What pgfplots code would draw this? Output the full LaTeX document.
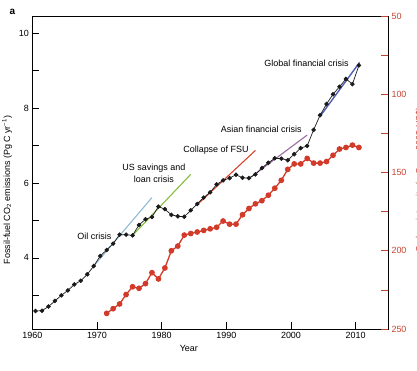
\documentclass[border=0pt]{standalone}
\usepackage{pgfplots}
\pgfplotsset{compat=1.18}
\usepackage{fontspec}
\setmainfont{Liberation Sans}
\definecolor{blk}{HTML}{1A1A1A}
\definecolor{redser}{HTML}{D23A2A}
\definecolor{redax}{HTML}{C8432F}
\definecolor{oilc}{HTML}{8DBBD3}
\definecolor{slc}{HTML}{86BD40}
\definecolor{fsuc}{HTML}{D9432E}
\definecolor{asc}{HTML}{9A6AA3}
\definecolor{gfc}{HTML}{5060AE}
\begin{document}
\begin{tikzpicture}[font=\fontsize{9}{11}\selectfont]
\begin{axis}[name=main,
  scale only axis, width=355.7bp, height=313bp,
  xmin=1960, xmax=2015, ymin=2.1, ymax=10.46,
  xtick={1960,1970,...,2010}, ytick={4,6,8,10}, minor ytick={3,5,7,9},
  xtick pos=bottom, ytick pos=left, tick align=inside,
  major tick length=7bp, minor tick length=7bp,
  every tick/.style={black, line width=0.6pt},
  axis line style={line width=0.7pt},
  /pgf/number format/assume math mode=true,
  x tick label style={/pgf/number format/1000 sep={}},
  xlabel={Year},
  ylabel={Fossil-fuel CO\textsubscript{2} emissions (Pg C yr\textsuperscript{−1})},
  every axis x label/.append style={at={(ticklabel cs:0.44)}},
  every axis y label/.append style={at={(ticklabel cs:0.444)}},
  clip=false,
]
% trend lines
\addplot[oilc, line width=1.1pt] coordinates {(1969.5,3.78) (1978.5,5.61)};
\addplot[slc, line width=1.1pt] coordinates {(1975.5,4.60) (1984.5,6.23)};
\addplot[fsuc, line width=1.1pt] coordinates {(1985.5,5.42) (1994.5,6.87)};
\addplot[asc, line width=1.1pt] coordinates {(1993.5,6.12) (2002.5,7.28)};
\addplot[gfc, line width=1.4pt] coordinates {(2004.5,7.78) (2010.6,9.22)};
% fossil fuel emissions
\addplot[blk, line width=0.7pt, mark=*, mark size=1.9pt] table {
x y
1960.5 2.58
1961.5 2.59
1962.5 2.70
1963.5 2.85
1964.5 3.00
1965.5 3.13
1966.5 3.29
1967.5 3.39
1968.5 3.56
1969.5 3.78
1970.5 4.05
1971.5 4.21
1972.5 4.38
1973.5 4.62
1974.5 4.62
1975.5 4.60
1976.5 4.88
1977.5 5.03
1978.5 5.09
1979.5 5.37
1980.5 5.30
1981.5 5.15
1982.5 5.11
1983.5 5.10
1984.5 5.27
1985.5 5.44
1986.5 5.61
1987.5 5.75
1988.5 5.96
1989.5 6.07
1990.5 6.13
1991.5 6.22
1992.5 6.14
1993.5 6.13
1994.5 6.23
1995.5 6.40
1996.5 6.54
1997.5 6.66
1998.5 6.65
1999.5 6.61
2000.5 6.77
2001.5 6.93
2002.5 6.99
2003.5 7.42
2004.5 7.81
2005.5 8.11
2006.5 8.37
2007.5 8.57
2008.5 8.78
2009.5 8.64
2010.5 9.14
};
\node at (axis cs:1969.6,4.57) {Oil crisis};
\node[align=center, font=\fontsize{9}{11.6}\selectfont] at (axis cs:1978.8,6.26) {US savings and\\loan crisis};
\node at (axis cs:1988.4,6.88) {Collapse of FSU};
\node at (axis cs:1995.4,7.44) {Asian financial crisis};
\node at (axis cs:2002.4,9.21) {Global financial crisis};
\end{axis}
\begin{axis}[
  scale only axis, width=355.7bp, height=313bp,
  xmin=1960, xmax=2015, ymin=50, ymax=250, y dir=reverse,
  axis x line=none, axis y line*=right,
  ytick={50,100,150,200,250}, minor ytick={75,125,175,225},
  ytick pos=right, tick align=inside,
  major tick length=7bp, minor tick length=7bp,
  every tick/.style={redax, line width=0.6pt},
  axis line style={line width=0.7pt, black},
  /pgf/number format/assume math mode=true,
  yticklabel style={redax},
]
\addplot[redser, line width=1.3pt, mark=*, mark size=2.2pt] table {
x y
1971.5 240
1972.5 237
1973.5 234
1974.5 228
1975.5 223
1976.5 224
1977.5 221
1978.5 214
1979.5 218
1980.5 211
1981.5 200
1982.5 197
1983.5 190
1984.5 189
1985.5 188
1986.5 187
1987.5 186
1988.5 185
1989.5 181
1990.5 183
1991.5 183
1992.5 177
1993.5 173
1994.5 170
1995.5 168
1996.5 164.5
1997.5 160
1998.5 155
1999.5 148
2000.5 144.5
2001.5 144.5
2002.5 141
2003.5 144
2004.5 144
2005.5 143
2006.5 139
2007.5 135
2008.5 134
2009.5 132.5
2010.5 134
};
\end{axis}
\node[font=\fontsize{10}{12}\selectfont\bfseries] at ([xshift=-20bp,yshift=4bp]main.north west) {a};
\node[overlay, rotate=90, anchor=north, inner sep=0pt, text=redax] at ([xshift=27.5bp,yshift=-7.5bp]main.east) {Carbon intensity (g C per 2005 US\$)};
\pgfresetboundingbox
\path ([xshift=-32.3bp,yshift=-41bp]main.south west) rectangle ([xshift=29bp,yshift=16bp]main.north east);
\end{tikzpicture}
\end{document}
